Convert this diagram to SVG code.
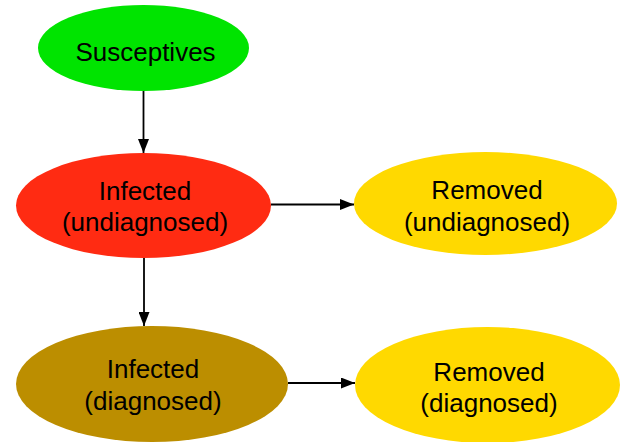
<svg xmlns="http://www.w3.org/2000/svg" width="622" height="442" viewBox="0 0 622 442">
<style>
text{font-family:"Liberation Sans",Arial,sans-serif;font-size:26px;fill:#000;text-anchor:middle}
.edge{stroke:#000;stroke-width:1.8;fill:none}
</style>
<defs>
<marker id="arr" viewBox="0 0 14 11" refX="14" refY="5.5" markerWidth="14" markerHeight="11" markerUnits="userSpaceOnUse" orient="auto">
<path d="M0,0 L14,5.5 L0,11 Z" fill="#000"/>
</marker>
</defs>
<rect width="622" height="442" fill="#fff"/>
<g id="connectors">
<line class="edge" x1="143.5" y1="91" x2="143.5" y2="153" marker-end="url(#arr)"/>
<line class="edge" x1="271" y1="204.5" x2="354" y2="204.5" marker-end="url(#arr)"/>
<line class="edge" x1="144" y1="258" x2="144" y2="326" marker-end="url(#arr)"/>
<line class="edge" x1="288" y1="383" x2="355" y2="383" marker-end="url(#arr)"/>
</g>
<g id="susceptives">
<ellipse cx="143.5" cy="48" rx="105.5" ry="43" fill="#00E400"/>
<text x="145.5" y="61">Susceptives</text>
</g>
<g id="infected-undiagnosed">
<ellipse cx="143.5" cy="205.5" rx="127.5" ry="52.5" fill="#FF2B12"/>
<text x="145" y="200">Infected</text>
<text x="145" y="231">(undiagnosed)</text>
</g>
<g id="removed-undiagnosed">
<ellipse cx="485.5" cy="203.5" rx="131.5" ry="51.5" fill="#FFD900"/>
<text x="487" y="199">Removed</text>
<text x="487" y="231">(undiagnosed)</text>
</g>
<g id="infected-diagnosed">
<ellipse cx="152" cy="384" rx="136" ry="58" fill="#BC8E00"/>
<text x="153" y="378">Infected</text>
<text x="153" y="410">(diagnosed)</text>
</g>
<g id="removed-diagnosed">
<ellipse cx="487.5" cy="385" rx="132.5" ry="58" fill="#FFD900"/>
<text x="489" y="381">Removed</text>
<text x="489" y="412">(diagnosed)</text>
</g>
</svg>
